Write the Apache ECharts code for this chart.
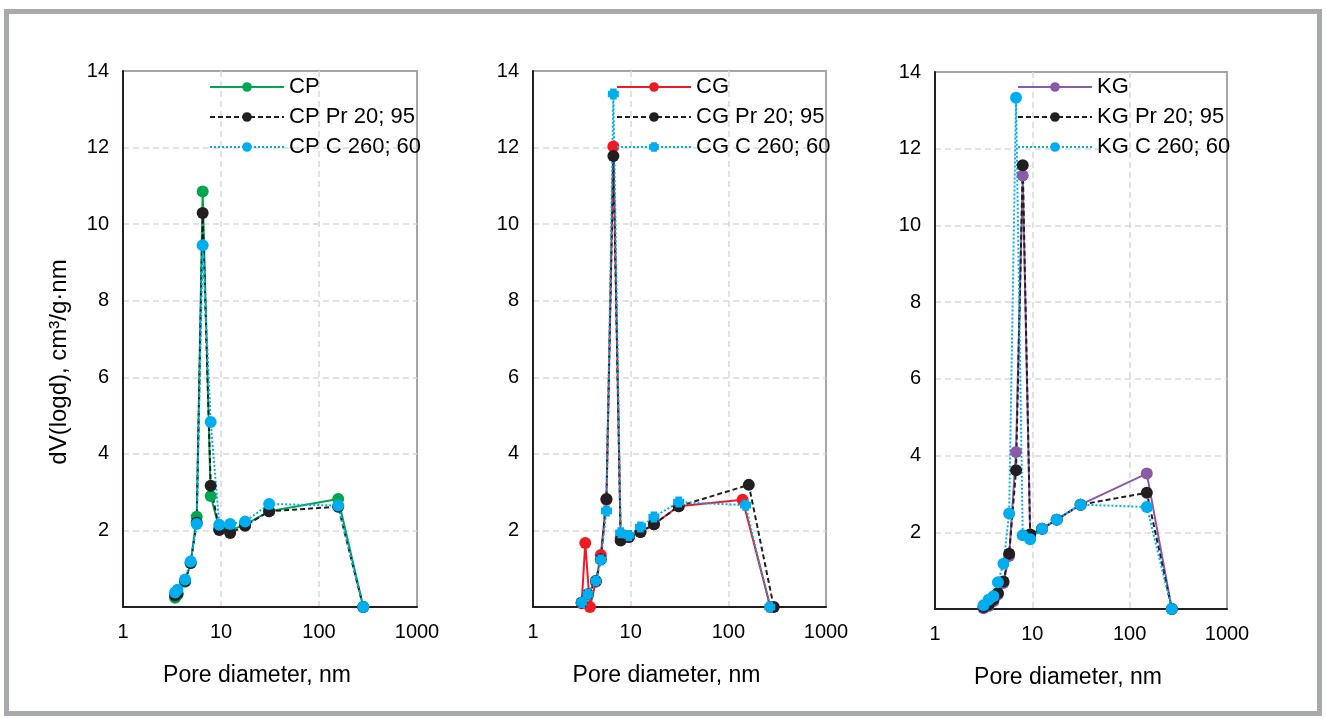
<!DOCTYPE html>
<html>
<head>
<meta charset="utf-8">
<script src="https://cdn.jsdelivr.net/npm/echarts@6/dist/echarts.min.js"></script>
<style>
  html, body { margin: 0; padding: 0; background: #fff; }
  #chart { width: 1326px; height: 720px; }
</style>
</head>
<body>
<div id="chart"></div>
<script>
// pore diameter (nm) and dV(logd) values
let cp_x = [3.4, 3.6, 4.3, 4.9, 5.65, 6.5, 7.85, 9.6, 12.4, 17.6, 31, 157, 283];
let cp_y = [0.24, 0.32, 0.66, 1.15, 2.36, 10.85, 2.9, 2.05, 2.0, 2.15, 2.5, 2.82, 0];
let cp_pr_y = [0.3, 0.36, 0.68, 1.15, 2.2, 10.29, 3.17, 2.01, 1.93, 2.12, 2.5, 2.62, 0];
let cp_c_y = [0.38, 0.45, 0.72, 1.19, 2.17, 9.45, 4.83, 2.15, 2.17, 2.23, 2.69, 2.65, 0];

let cg_x = [3.15, 3.43, 3.83, 4.4, 4.95, 5.65, 6.65, 7.9, 9.6, 12.6, 17.3, 31, 140, 270];
let cg_y = [0.1, 1.67, 0, 0.66, 1.36, 2.8, 12.03, 1.8, 1.83, 1.96, 2.16, 2.63, 2.8, 0];
let cg_pr_x = [3.15, 3.65, 4.4, 4.95, 5.65, 6.65, 7.9, 9.6, 12.6, 17.3, 31, 162, 292];
let cg_pr_y = [0.12, 0.33, 0.68, 1.25, 2.82, 11.78, 1.74, 1.83, 1.96, 2.16, 2.63, 3.19, 0];
let cg_c_x = [3.15, 3.65, 4.4, 4.95, 5.65, 6.65, 7.9, 9.6, 12.6, 17.3, 31, 150, 266];
let cg_c_y = [0.12, 0.33, 0.68, 1.23, 2.51, 13.4, 1.94, 1.87, 2.09, 2.35, 2.74, 2.66, 0];

let kg_x = [3.15, 3.55, 3.98, 4.43, 5.05, 5.78, 6.8, 7.97, 9.5, 12.6, 17.8, 31.3, 150, 271];
let kg_y = [0.02, 0.08, 0.2, 0.38, 0.68, 1.38, 4.09, 11.3, 1.94, 2.09, 2.33, 2.72, 3.53, 0];
let kg_pr_y = [0.05, 0.12, 0.25, 0.42, 0.72, 1.44, 3.62, 11.57, 1.94, 2.09, 2.33, 2.72, 3.03, 0];
let kg_c_y = [0.1, 0.24, 0.33, 0.7, 1.18, 2.49, 13.33, 1.92, 1.82, 2.09, 2.33, 2.72, 2.66, 0];

let x_ticks = [1, 10, 100, 1000];
let y_ticks = [0, 2, 4, 6, 8, 10, 12, 14];

const FONT = 'Liberation Sans, Arial, sans-serif';
const BLACK = '#231f20';
const BLUE = '#00aeef';
const NOTCHED = 'path://M2,0L8,0L8,2L10,2L10,8L8,8L8,10L2,10L2,8L0,8L0,2L2,2Z';

function pairs(xs, ys) {
    return xs.map(function (x, i) { return [x, ys[i]]; });
}

function makeSeries(name, xs, ys, color, dash, idx, symbol) {
    return {
        name: name,
        type: 'line',
        xAxisIndex: idx,
        yAxisIndex: idx,
        data: pairs(xs, ys),
        symbol: symbol || 'circle',
        symbolSize: symbol ? 11 : 12,
        showSymbol: true,
        color: color,
        lineStyle: { color: color, width: 2, type: dash },
        itemStyle: { color: color },
        animation: false
    };
}

let grids = [
    { left: 123, top: 71, width: 294, height: 536 },
    { left: 533, top: 71, width: 293, height: 536 },
    { left: 935, top: 72, width: 292, height: 537 }
];

let chart = echarts.init(document.getElementById('chart'));

let option = {
    animation: false,
    textStyle: { fontFamily: FONT },
    graphic: [{
        type: 'rect',
        shape: { x: 6.5, y: 11.5, width: 1313, height: 702 },
        style: { fill: 'none', stroke: '#a7a9ac', lineWidth: 5 }
    }],
    grid: grids.map(function (g) {
        return Object.assign({ show: true, borderColor: '#a6a6a6', borderWidth: 2 }, g);
    }),
    legend: [
        { left: 209, names: ['CP', 'CP Pr 20; 95', 'CP C 260; 60'] },
        { left: 616, names: ['CG', 'CG Pr 20; 95', 'CG C 260; 60'] },
        { left: 1017, names: ['KG', 'KG Pr 20; 95', 'KG C 260; 60'] }
    ].map(function (l) {
        return {
            orient: 'vertical',
            left: l.left,
            top: 76,
            padding: 0,
            data: l.names,
            itemWidth: 74,
            itemHeight: 12,
            itemGap: 8,
            textStyle: { fontSize: 22, color: '#000', lineHeight: 22, fontFamily: FONT }
        };
    }),
    xAxis: grids.map(function (g, i) {
        return {
            type: 'log',
            logBase: 10,
            gridIndex: i,
            min: x_ticks[0],
            max: x_ticks[x_ticks.length - 1],
            name: 'Pore diameter, nm',
            nameLocation: 'middle',
            nameGap: 57,
            nameTextStyle: { fontSize: 23, color: '#000', fontFamily: FONT, padding: [0, 26, 0, 0] },
            axisLine: { lineStyle: { color: BLACK, width: 2 } },
            axisTick: { show: false },
            axisLabel: {
                fontSize: 20, color: '#000', margin: 15, fontFamily: FONT,
                formatter: function (v) { return String(v); }
            },
            splitLine: {
                show: true, showMinLine: false, showMaxLine: false,
                lineStyle: { color: '#d9d9d9', width: 1.5, type: [6, 4] }
            }
        };
    }),
    yAxis: grids.map(function (g, i) {
        return {
            type: 'value',
            gridIndex: i,
            min: y_ticks[0],
            max: y_ticks[y_ticks.length - 1],
            interval: 2,
            name: i === 0 ? 'dV(logd), cm³/g·nm' : '',
            nameLocation: 'middle',
            nameGap: 52,
            nameTextStyle: { fontSize: 24, color: '#000', fontFamily: FONT, padding: [0, 46, 0, 0] },
            axisLine: { show: true, lineStyle: { color: BLACK, width: 2 } },
            axisTick: { show: false },
            axisLabel: {
                fontSize: 20, color: '#000', margin: 14, fontFamily: FONT,
                formatter: function (v) { return v === 0 ? '' : v; }
            },
            splitLine: {
                show: true, showMinLine: false, showMaxLine: false,
                lineStyle: { color: '#d9d9d9', width: 1.5, type: [6, 4] }
            }
        };
    }),
    series: [
        makeSeries('CP', cp_x, cp_y, '#00a650', 'solid', 0),
        makeSeries('CP Pr 20; 95', cp_x, cp_pr_y, BLACK, [5, 3], 0),
        makeSeries('CP C 260; 60', cp_x, cp_c_y, BLUE, [2, 2], 0),

        makeSeries('CG', cg_x, cg_y, '#ed1c24', 'solid', 1),
        makeSeries('CG Pr 20; 95', cg_pr_x, cg_pr_y, BLACK, [5, 3], 1),
        makeSeries('CG C 260; 60', cg_c_x, cg_c_y, BLUE, [2, 2], 1, NOTCHED),

        makeSeries('KG', kg_x, kg_y, '#8a5ba6', 'solid', 2),
        makeSeries('KG Pr 20; 95', kg_x, kg_pr_y, BLACK, [5, 3], 2),
        makeSeries('KG C 260; 60', kg_x, kg_c_y, BLUE, [2, 2], 2)
    ]
};
chart.setOption(option);

window.addEventListener('resize', function () {
    chart.resize();
});
</script>
</body>
</html>
